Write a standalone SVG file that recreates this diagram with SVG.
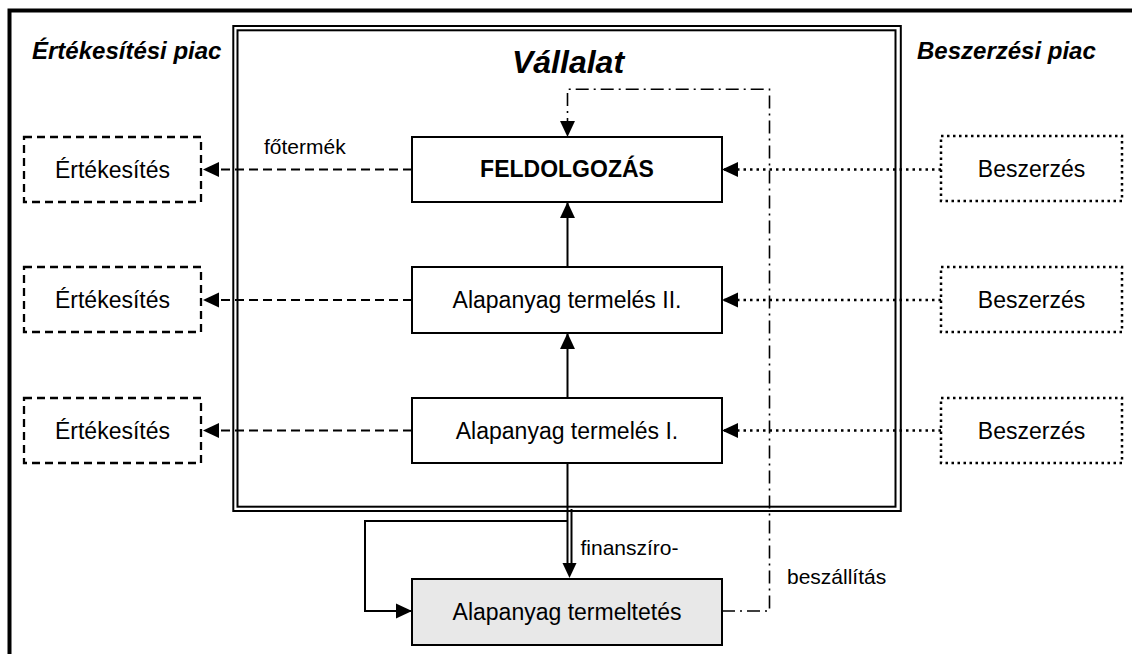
<svg xmlns="http://www.w3.org/2000/svg" width="1132" height="654" viewBox="0 0 1132 654">
<defs>
<style>
text{font-family:"Liberation Sans",Arial,sans-serif;fill:#000}
.nt{font-size:23px;text-anchor:middle}
.lb{font-size:21px}
.hd{font-size:24px;font-weight:bold;font-style:italic}
.box{fill:#fff;stroke:#000;stroke-width:2}
.sale{fill:#fff;stroke:#000;stroke-width:2.3;stroke-dasharray:8 5}
.buy{fill:#fff;stroke:#000;stroke-width:2.5;stroke-dasharray:2.5 3.5}
.dash{fill:none;stroke:#000;stroke-width:2.2;stroke-dasharray:9 5}
.dot{fill:none;stroke:#000;stroke-width:2.5;stroke-dasharray:2.5 4}
.solid{fill:none;stroke:#000;stroke-width:2}
.dd{fill:none;stroke:#000;stroke-width:1.6;stroke-dasharray:13 5 2 5}
</style>
<marker id="ah" markerUnits="userSpaceOnUse" markerWidth="16" markerHeight="16" viewBox="0 0 15 14" refX="15" refY="7" orient="auto">
<path d="M0,0 L15,7 L0,14 Z" fill="#000"/>
</marker>
</defs>
<rect width="1132" height="654" fill="#fff"/>
<rect x="9.5" y="10.5" width="1200" height="1000" fill="none" stroke="#000" stroke-width="4"/>
<g id="vallalat">
<rect x="233.3" y="26" width="667.5" height="485" fill="none" stroke="#000" stroke-width="2"/>
<rect x="237.5" y="30.3" width="658" height="476.4" fill="none" stroke="#000" stroke-width="2"/>
<text x="568" y="73" font-size="32" font-weight="bold" font-style="italic" text-anchor="middle">Vállalat</text>
</g>
<g id="headings">
<text class="hd" x="32" y="59">Értékesítési piac</text>
<text class="hd" x="917" y="59">Beszerzési piac</text>
</g>
<g id="connectors">
<line class="dash" x1="412" y1="169.5" x2="203" y2="169.5" marker-end="url(#ah)"/>
<line class="dash" x1="412" y1="300" x2="203" y2="300" marker-end="url(#ah)"/>
<line class="dash" x1="412" y1="430.5" x2="203" y2="430.5" marker-end="url(#ah)"/>
<line class="dot" x1="941" y1="169.5" x2="722" y2="169.5" marker-end="url(#ah)"/>
<line class="dot" x1="941" y1="300" x2="722" y2="300" marker-end="url(#ah)"/>
<line class="dot" x1="941" y1="430.5" x2="722" y2="430.5" marker-end="url(#ah)"/>
<line class="solid" x1="567.5" y1="267" x2="567.5" y2="202" marker-end="url(#ah)"/>
<line class="solid" x1="567.5" y1="398" x2="567.5" y2="333" marker-end="url(#ah)"/>
<line class="solid" x1="567.5" y1="463" x2="567.5" y2="565"/>
<line class="solid" x1="571.5" y1="509" x2="571.5" y2="565"/>
<path d="M562.5,563 L576.5,563 L569.5,578 Z" fill="#000"/>
<polyline class="solid" points="567.5,521 365,521 365,611 412,611" marker-end="url(#ah)"/>
<polyline class="dd" points="722,611 769.5,611 769.5,89.3 567.5,89.3 567.5,137" marker-end="url(#ah)"/>
<text class="lb" x="264" y="154">főtermék</text>
<text class="lb" x="580.5" y="555" font-size="23">finanszíro-</text>
<text class="lb" x="787" y="584">beszállítás</text>
</g>
<g id="feldolgozas">
<rect class="box" x="412" y="137" width="310" height="65"/>
<text class="nt" x="567" y="177" font-weight="bold">FELDOLGOZÁS</text>
</g>
<g id="alap2">
<rect class="box" x="412" y="267" width="310" height="66"/>
<text class="nt" x="567" y="308">Alapanyag termelés II.</text>
</g>
<g id="alap1">
<rect class="box" x="412" y="398" width="310" height="65"/>
<text class="nt" x="567" y="438.5">Alapanyag termelés I.</text>
</g>
<g id="termeltetes">
<rect x="412" y="579" width="310" height="66" fill="#e8e8e8" stroke="#000" stroke-width="2"/>
<text class="nt" x="567" y="620">Alapanyag termeltetés</text>
</g>
<g id="ert1"><rect class="sale" x="24" y="137" width="177" height="65"/><text class="nt" x="112.5" y="177.5">Értékesítés</text></g>
<g id="ert2"><rect class="sale" x="24" y="267" width="177" height="65"/><text class="nt" x="112.5" y="308">Értékesítés</text></g>
<g id="ert3"><rect class="sale" x="24" y="398" width="177" height="65"/><text class="nt" x="112.5" y="438.5">Értékesítés</text></g>
<g id="besz1"><rect class="buy" x="941" y="136" width="181" height="65"/><text class="nt" x="1031.5" y="177">Beszerzés</text></g>
<g id="besz2"><rect class="buy" x="941" y="267" width="181" height="65"/><text class="nt" x="1031.5" y="308">Beszerzés</text></g>
<g id="besz3"><rect class="buy" x="941" y="398" width="181" height="65"/><text class="nt" x="1031.5" y="438.5">Beszerzés</text></g>
</svg>
